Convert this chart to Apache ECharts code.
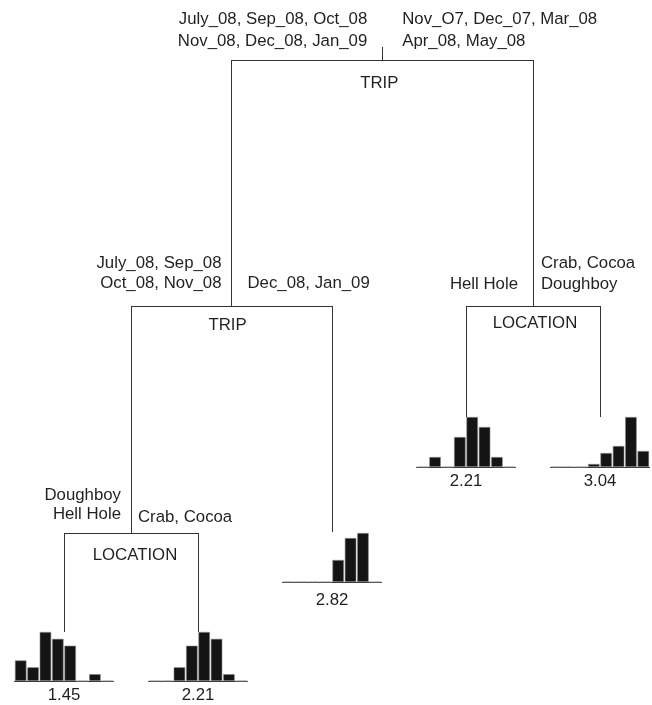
<!DOCTYPE html>
<html>
<head>
<meta charset="utf-8">
<style>
  html, body { margin: 0; padding: 0; background: #ffffff; }
  #tree { width: 652px; height: 705px; }
</style>
<script src="https://cdn.jsdelivr.net/npm/echarts@6/dist/echarts.min.js"></script>
</head>
<body>
<div id="tree"></div>
<script>
// ---- Regression tree: splits ----
// internal nodes: 0 = root, 1 = left TRIP, 2 = right LOCATION, 3 = lower LOCATION
const splitNames = ['TRIP', 'TRIP', 'LOCATION', 'LOCATION'];
const leftBranchLabels = [
  ['July_08, Sep_08, Oct_08', 'Nov_08, Dec_08, Jan_09'],
  ['July_08, Sep_08', 'Oct_08, Nov_08'],
  ['Hell Hole'],
  ['Doughboy', 'Hell Hole']
];
const rightBranchLabels = [
  ['Nov_O7, Dec_07, Mar_08', 'Apr_08, May_08'],
  ['Dec_08, Jan_09'],
  ['Crab, Cocoa', 'Doughboy'],
  ['Crab, Cocoa']
];
// children of each internal node: 'n' = internal node, 'L' = leaf
const nodeChildren = [['n1', 'n2'], ['n3', 'L2'], ['L3', 'L4'], ['L0', 'L1']];

// ---- Leaves: mean response and histogram of the response ----
const leafMeans = [1.45, 2.21, 2.82, 2.21, 3.04];
const histBins = ['b1', 'b2', 'b3', 'b4', 'b5', 'b6', 'b7', 'b8'];
const histLeaf0 = [21, 14, 50, 43, 36, 0, 7, 0];
const histLeaf1 = [0, 0, 14, 36, 50, 43, 7, 0];
const histLeaf2 = [0, 0, 0, 0, 22, 44, 49, 0];
const histLeaf3 = [0, 10, 0, 30, 50, 40, 10, 0];
const histLeaf4 = [0, 0, 0, 3, 14, 21, 50, 16];
const leafHists = [histLeaf0, histLeaf1, histLeaf2, histLeaf3, histLeaf4];

// ---- Layout ----
const W = 652, H = 705;
const firstLeafPx = 64, leafSpacingPx = 134;      // leaves sit on evenly spaced slots
const rootStemTop = 47;
const nodeLevel = [60, 306, 306, 533];             // vertical position of each split bar
const leafTop = [632, 632, 532, 417, 417];         // top of each leaf histogram
const histWidth = 99, histHeight = 50, histMax = 50;
const meanGap = [6, 6, 10, 6, 6];
const branchDx = [[-15, 20], [-10, 16], [-15, 8], [-10, 7]];
const branchDy = [[-19, -19], [-23, -23], [-22, -22], [-19, -16]];
const branchLineGap = [22, 20, 21, 19];
const splitDx = [-3, -4, 2, 4];
const splitDy = [23, 19, 17, 22];
const FONT = '"Liberation Sans", Arial, Helvetica, sans-serif';
const INK = '#231f20';
const fontSize = 16.8;
const meanFontSize = 16.8;

function xOf(ref) {
  const kind = ref[0], i = +ref.slice(1);
  if (kind === 'L') return i;
  const kids = nodeChildren[i];
  return (xOf(kids[0]) + xOf(kids[1])) / 2;
}
function topOf(ref) {
  const kind = ref[0], i = +ref.slice(1);
  return kind === 'L' ? leafTop[i] : nodeLevel[i];
}

// line segments [x1, y1, x2, y2] in (slot, level) units
const segments = [];
const rootX = xOf('n0');
segments.push([rootX, rootStemTop, rootX, nodeLevel[0]]);
nodeChildren.forEach(function (kids, i) {
  const xl = xOf(kids[0]), xr = xOf(kids[1]);
  segments.push([xl, nodeLevel[i], xr, nodeLevel[i]]);
  kids.forEach(function (c) {
    segments.push([xOf(c), nodeLevel[i], xOf(c), topOf(c)]);
  });
});

// text items anchored on the split nodes
const texts = [];
splitNames.forEach(function (name, i) {
  const x = xOf('n' + i);
  texts.push({ value: [x, nodeLevel[i] + splitDy[i]], text: name, align: 'center', dx: splitDx[i] });
  const L = leftBranchLabels[i], R = rightBranchLabels[i];
  L.forEach(function (t, j) {
    const y = nodeLevel[i] + branchDy[i][0] - (L.length - 1 - j) * branchLineGap[i];
    texts.push({ value: [x, y], text: t, align: 'right', dx: branchDx[i][0] });
  });
  R.forEach(function (t, j) {
    const y = nodeLevel[i] + branchDy[i][1] - (R.length - 1 - j) * branchLineGap[i];
    texts.push({ value: [x, y], text: t, align: 'left', dx: branchDx[i][1] });
  });
});

const xMin = -firstLeafPx / leafSpacingPx;
const xMax = xMin + W / leafSpacingPx;

const chart = echarts.init(document.getElementById('tree'), null, { renderer: 'canvas', width: W, height: H });

const grids = [{ left: 0, top: 0, width: W, height: H }];
const xAxes = [{ type: 'value', gridIndex: 0, min: xMin, max: xMax, show: false }];
const yAxes = [{ type: 'value', gridIndex: 0, min: 0, max: H, inverse: true, show: false }];
const series = [
  {
    type: 'custom',
    xAxisIndex: 0, yAxisIndex: 0,
    clip: false,
    silent: true,
    data: segments,
    encode: { x: [0, 2], y: [1, 3] },
    renderItem: function (params, api) {
      const p1 = api.coord([api.value(0), api.value(1)]);
      const p2 = api.coord([api.value(2), api.value(3)]);
      const crisp = function (v) { return Math.round(v - 0.5) + 0.5; };
      const vertical = Math.abs(p1[0] - p2[0]) < 0.01;
      return {
        type: 'line',
        shape: vertical
          ? { x1: crisp(p1[0]), y1: Math.round(p1[1]), x2: crisp(p2[0]), y2: Math.round(p2[1]) }
          : { x1: Math.round(p1[0]), y1: crisp(p1[1]), x2: Math.round(p2[0]), y2: crisp(p2[1]) },
        style: { stroke: '#333333', lineWidth: 1 }
      };
    }
  },
  {
    type: 'custom',
    xAxisIndex: 0, yAxisIndex: 0,
    clip: false,
    silent: true,
    data: texts,
    renderItem: function (params, api) {
      const item = texts[params.dataIndex];
      const p = api.coord([api.value(0), api.value(1)]);
      return {
        type: 'text',
        style: {
          x: p[0] + item.dx, y: p[1],
          text: item.text,
          fill: INK,
          font: fontSize + 'px ' + FONT,
          align: item.align,
          verticalAlign: 'middle'
        }
      };
    }
  }
];

chart.setOption({ animation: false, grid: grids, xAxis: xAxes, yAxis: yAxes, series: series });

// leaf histograms: one small grid per leaf, hung below its stem
leafHists.forEach(function (hist, k) {
  const p = chart.convertToPixel({ gridIndex: 0 }, [k, leafTop[k]]);
  const g = k + 1;
  grids.push({ left: p[0] - histWidth / 2, top: p[1], width: histWidth, height: histHeight });
  xAxes.push({
    type: 'category', gridIndex: g, data: histBins,
    axisLine: { show: true, lineStyle: { color: '#333333', width: 1 } },
    axisTick: { show: false }, axisLabel: { show: false }, splitLine: { show: false },
    name: leafMeans[k].toFixed(2), nameLocation: 'middle', nameGap: meanGap[k],
    nameTextStyle: { color: INK, fontSize: meanFontSize, fontFamily: FONT }
  });
  yAxes.push({ type: 'value', gridIndex: g, min: 0, max: histMax, show: false });
  series.push({
    type: 'bar', xAxisIndex: g, yAxisIndex: g,
    data: hist,
    barCategoryGap: '7%',
    silent: true,
    itemStyle: { color: '#141414', borderColor: '#8a8a8a', borderWidth: 0.6 }
  });
});

chart.setOption({ animation: false, grid: grids, xAxis: xAxes, yAxis: yAxes, series: series }, true);
</script>
</body>
</html>
